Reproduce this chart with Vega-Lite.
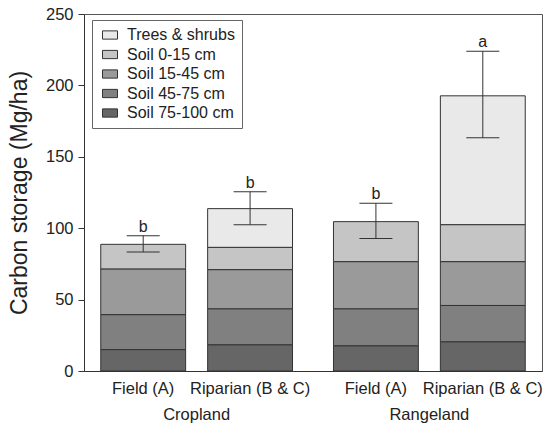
{
  "$schema": "https://vega.github.io/schema/vega-lite/v6.json",
  "autosize": "none",
  "width": 458,
  "height": 357,
  "padding": {"left": 84, "top": 14, "right": 8, "bottom": 55},
  "background": "white",
  "config": {
    "font": "Liberation Sans",
    "view": {"stroke": "#555", "strokeWidth": 1},
    "axis": {"domainColor": "#333", "tickColor": "#333", "labelColor": "#222", "titleColor": "#222", "grid": false, "labelFontSize": 16.5, "titleFontWeight": "normal"}
  },
  "datasets": {
    "bars": [
      {"group": "Cropland", "type": "Field (A)", "layer": "Soil 75-100 cm", "ord": 1, "value": 15.0},
      {"group": "Cropland", "type": "Field (A)", "layer": "Soil 45-75 cm", "ord": 2, "value": 24.5},
      {"group": "Cropland", "type": "Field (A)", "layer": "Soil 15-45 cm", "ord": 3, "value": 32.0},
      {"group": "Cropland", "type": "Field (A)", "layer": "Soil 0-15 cm", "ord": 4, "value": 17.2},
      {"group": "Cropland", "type": "Riparian (B & C)", "layer": "Soil 75-100 cm", "ord": 1, "value": 18.4},
      {"group": "Cropland", "type": "Riparian (B & C)", "layer": "Soil 45-75 cm", "ord": 2, "value": 25.2},
      {"group": "Cropland", "type": "Riparian (B & C)", "layer": "Soil 15-45 cm", "ord": 3, "value": 27.4},
      {"group": "Cropland", "type": "Riparian (B & C)", "layer": "Soil 0-15 cm", "ord": 4, "value": 15.6},
      {"group": "Cropland", "type": "Riparian (B & C)", "layer": "Trees & shrubs", "ord": 5, "value": 27.1},
      {"group": "Rangeland", "type": "Field (A)", "layer": "Soil 75-100 cm", "ord": 1, "value": 17.7},
      {"group": "Rangeland", "type": "Field (A)", "layer": "Soil 45-75 cm", "ord": 2, "value": 25.9},
      {"group": "Rangeland", "type": "Field (A)", "layer": "Soil 15-45 cm", "ord": 3, "value": 33.0},
      {"group": "Rangeland", "type": "Field (A)", "layer": "Soil 0-15 cm", "ord": 4, "value": 28.0},
      {"group": "Rangeland", "type": "Riparian (B & C)", "layer": "Soil 75-100 cm", "ord": 1, "value": 20.5},
      {"group": "Rangeland", "type": "Riparian (B & C)", "layer": "Soil 45-75 cm", "ord": 2, "value": 25.4},
      {"group": "Rangeland", "type": "Riparian (B & C)", "layer": "Soil 15-45 cm", "ord": 3, "value": 30.7},
      {"group": "Rangeland", "type": "Riparian (B & C)", "layer": "Soil 0-15 cm", "ord": 4, "value": 25.9},
      {"group": "Rangeland", "type": "Riparian (B & C)", "layer": "Trees & shrubs", "ord": 5, "value": 90.2}
    ],
    "err": [
      {"group": "Cropland", "type": "Field (A)", "lo": 83.3, "hi": 94.8, "letter": "b"},
      {"group": "Cropland", "type": "Riparian (B & C)", "lo": 102.5, "hi": 125.5, "letter": "b"},
      {"group": "Rangeland", "type": "Field (A)", "lo": 92.7, "hi": 117.5, "letter": "b"},
      {"group": "Rangeland", "type": "Riparian (B & C)", "lo": 163.3, "hi": 224.0, "letter": "a"}
    ]
  },
  "layer": [
    {
      "data": {"name": "bars"},
      "mark": {"type": "bar", "stroke": "#333", "strokeWidth": 1},
      "encoding": {
        "x": {"field": "group", "type": "nominal", "scale": {"paddingInner": 0.176, "paddingOuter": 0.072},
              "axis": {"title": null, "ticks": false, "labelPadding": 35, "labelAngle": 0}},
        "xOffset": {"field": "type", "type": "nominal", "scale": {"paddingInner": 0.206, "paddingOuter": 0}},
        "y": {"field": "value", "type": "quantitative", "aggregate": "sum", "stack": "zero",
              "scale": {"domain": [0, 250], "nice": false},
              "axis": {"title": "Carbon storage (Mg/ha)", "titleFontSize": 23, "titlePadding": 14, "values": [0, 50, 100, 150, 200, 250], "tickSize": 6, "labelPadding": 5}},
        "color": {"field": "layer", "type": "nominal",
                  "scale": {"domain": ["Trees & shrubs", "Soil 0-15 cm", "Soil 15-45 cm", "Soil 45-75 cm", "Soil 75-100 cm"],
                            "range": ["#e9e9e9", "#c5c5c5", "#9a9a9a", "#808080", "#666666"]},
                  "legend": {"title": null, "orient": "none", "legendX": 8, "legendY": 6, "strokeColor": "#666", "fillColor": "white", "padding": 7,
                             "symbolOffset": 3,
                             "labelFontSize": 16, "labelColor": "#222", "labelOffset": 9, "rowPadding": 3.5,
                             "symbolType": "M-1,-0.55H1V0.55H-1Z", "symbolSize": 225, "symbolStrokeColor": "#333", "symbolStrokeWidth": 1, "symbolOpacity": 1}},
        "order": {"field": "ord", "type": "quantitative", "sort": "ascending"}
      }
    },
    {
      "data": {"name": "err"},
      "mark": {"type": "rule", "color": "#333", "strokeWidth": 1},
      "encoding": {
        "x": {"field": "group", "type": "nominal"},
        "xOffset": {"field": "type", "type": "nominal"},
        "y": {"field": "lo", "type": "quantitative"},
        "y2": {"field": "hi"}
      }
    },
    {
      "data": {"name": "err"},
      "mark": {"type": "tick", "color": "#333", "size": 33, "thickness": 1, "opacity": 1},
      "encoding": {
        "x": {"field": "group", "type": "nominal"},
        "xOffset": {"field": "type", "type": "nominal"},
        "y": {"field": "lo", "type": "quantitative"}
      }
    },
    {
      "data": {"name": "err"},
      "mark": {"type": "tick", "color": "#333", "size": 33, "thickness": 1, "opacity": 1},
      "encoding": {
        "x": {"field": "group", "type": "nominal"},
        "xOffset": {"field": "type", "type": "nominal"},
        "y": {"field": "hi", "type": "quantitative"}
      }
    },
    {
      "data": {"name": "err"},
      "mark": {"type": "text", "fontSize": 16, "color": "#222", "baseline": "bottom", "dy": -1},
      "encoding": {
        "x": {"field": "group", "type": "nominal"},
        "xOffset": {"field": "type", "type": "nominal"},
        "y": {"field": "hi", "type": "quantitative"},
        "text": {"field": "letter"}
      }
    },
    {
      "data": {"name": "err"},
      "mark": {"type": "text", "fontSize": 16.5, "color": "#222", "baseline": "top", "dy": 10},
      "encoding": {
        "x": {"field": "group", "type": "nominal"},
        "xOffset": {"field": "type", "type": "nominal"},
        "y": {"datum": 0, "type": "quantitative"},
        "text": {"field": "type"}
      }
    }
  ]
}
